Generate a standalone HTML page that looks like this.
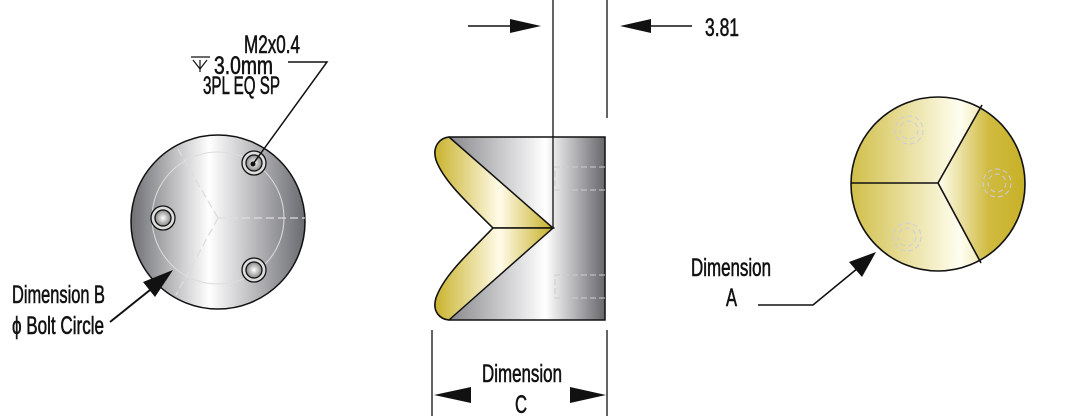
<!DOCTYPE html>
<html><head><meta charset="utf-8"><style>
html,body{margin:0;padding:0;background:#fff;}
svg{display:block;}
text{font-family:"Liberation Sans",sans-serif;font-size:25px;fill:#111;stroke:#111;stroke-width:0.6;}
</style></head><body>
<svg width="1065" height="416" viewBox="0 0 1065 416" xmlns="http://www.w3.org/2000/svg">
<defs>
<linearGradient id="met" x1="0" x2="1" y1="0" y2="0">
<stop offset="0" stop-color="#6e6f73"/><stop offset="0.45" stop-color="#ffffff"/><stop offset="1" stop-color="#6a6b70"/>
</linearGradient>
<linearGradient id="met2" x1="0" x2="1">
<stop offset="0" stop-color="#77787c"/><stop offset="0.65" stop-color="#ffffff"/><stop offset="1" stop-color="#66676b"/>
</linearGradient>
<linearGradient id="gold" x1="0" x2="1">
<stop offset="0" stop-color="#c9b32e"/><stop offset="0.55" stop-color="#fffbe8"/><stop offset="1" stop-color="#c6af26"/>
</linearGradient>
<linearGradient id="gold2" x1="0" x2="1">
<stop offset="0" stop-color="#ccb838"/><stop offset="0.6" stop-color="#fffef0"/><stop offset="1" stop-color="#c8b22a"/>
</linearGradient>
<linearGradient id="gold3" x1="0" x2="1">
<stop offset="0" stop-color="#fffef0"/><stop offset="0.55" stop-color="#d0bb40"/><stop offset="1" stop-color="#c6af24"/>
</linearGradient>
<radialGradient id="hole"><stop offset="0" stop-color="#fff"/><stop offset="1" stop-color="#888"/></radialGradient>
</defs>

<!-- LEFT CIRCLE -->
<circle cx="218" cy="222" r="87" fill="url(#met)" stroke="#111" stroke-width="1.5"/>
<circle cx="218" cy="218" r="66" fill="none" stroke="#ddd" stroke-width="1"/>
<g stroke="#ddd" stroke-width="1.3" stroke-dasharray="8,4" fill="none">
<line x1="218" y1="218" x2="305" y2="218"/>
<line x1="218" y1="218" x2="176" y2="146"/>
<line x1="218" y1="218" x2="176" y2="295"/>
</g>
<g stroke="#111" stroke-width="1.3">
<circle cx="254" cy="163" r="12" fill="#ddd"/><circle cx="254" cy="163" r="8" fill="url(#hole)"/>
<circle cx="163" cy="218" r="12" fill="#ddd"/><circle cx="163" cy="218" r="8" fill="url(#hole)"/>
<circle cx="254" cy="270" r="12" fill="#ddd"/><circle cx="254" cy="270" r="8" fill="url(#hole)"/>
</g>
<circle cx="253" cy="164" r="2.5" fill="#111"/>
<polyline points="288,62 327,62 253,164" fill="none" stroke="#111" stroke-width="1.5"/>
<line x1="110" y1="322" x2="150" y2="290" stroke="#111" stroke-width="2"/>
<polygon points="173,270 143,282 155,297" fill="#111"/>
<text x="12" y="303" textLength="93" lengthAdjust="spacingAndGlyphs">Dimension B</text>
<text x="12" y="334" textLength="92" lengthAdjust="spacingAndGlyphs">ϕ Bolt Circle</text>
<text x="244" y="53" textLength="56" lengthAdjust="spacingAndGlyphs">M2x0.4</text>
<text x="214" y="74" textLength="59" lengthAdjust="spacingAndGlyphs">3.0mm</text>
<g stroke="#111" stroke-width="1.2" fill="none"><line x1="191" y1="57" x2="210" y2="57"/><polyline points="193,60 200,69 207,60"/><line x1="200" y1="60" x2="200" y2="72"/></g>
<text x="203" y="94" textLength="77" lengthAdjust="spacingAndGlyphs">3PL EQ SP</text>

<!-- MIDDLE -->
<path d="M449,137 L605,137 L605,320 L449,320 C440,319 432,312 436,298 C444,275 470,252 493,228 C470,205 444,182 436,160 C432,146 440,138 449,137 Z" fill="url(#met2)" stroke="#111" stroke-width="1.5"/>
<path d="M449,137 L553,228 L493,228 C470,205 444,182 436,160 C432,146 440,138 449,137 Z" fill="url(#gold)" stroke="#111" stroke-width="1.5"/>
<path d="M449,320 L553,228 L493,228 C470,252 444,275 436,298 C432,312 440,319 449,320 Z" fill="url(#gold)" stroke="#111" stroke-width="1.5"/>
<g stroke="#ccc" stroke-width="1" stroke-dasharray="6,3" fill="none">
<polyline points="605,167 555,167 555,190 605,190"/>
<polyline points="605,275 555,275 555,298 605,298"/>
</g>
<line x1="553" y1="0" x2="553" y2="228" stroke="#111" stroke-width="1.3"/>
<line x1="607" y1="0" x2="607" y2="118" stroke="#111" stroke-width="1.3"/>
<line x1="468" y1="26" x2="512" y2="26" stroke="#111" stroke-width="1.5"/>
<polygon points="510,19 541,26 510,33" fill="#111"/>
<line x1="648" y1="26" x2="692" y2="26" stroke="#111" stroke-width="1.5"/>
<polygon points="651,19 620,26 651,33" fill="#111"/>
<text x="705" y="36" textLength="34" lengthAdjust="spacingAndGlyphs">3.81</text>
<line x1="432" y1="330" x2="432" y2="416" stroke="#111" stroke-width="1.3"/>
<line x1="607" y1="330" x2="607" y2="416" stroke="#111" stroke-width="1.3"/>
<polygon points="471,387 434,395 471,403" fill="#111"/>
<polygon points="570,387 606,395 570,403" fill="#111"/>
<text x="482" y="382" textLength="80" lengthAdjust="spacingAndGlyphs">Dimension</text>
<text x="515" y="413" textLength="12" lengthAdjust="spacingAndGlyphs">C</text>

<!-- RIGHT -->
<clipPath id="rc"><circle cx="938" cy="184" r="87"/></clipPath>
<g clip-path="url(#rc)">
<rect x="840" y="80" width="200" height="200" fill="url(#gold2)"/>
<polygon points="938,183 982,105 1030,105 1030,265 981,263" fill="url(#gold3)"/>
</g>
<circle cx="938" cy="184" r="87" fill="none" stroke="#111" stroke-width="1.6"/>
<polyline points="851,183 938,183 982,105" fill="none" stroke="#111" stroke-width="1.6"/>
<line x1="938" y1="183" x2="981" y2="263" stroke="#111" stroke-width="1.6"/>
<g stroke="#ccd" stroke-width="1" stroke-dasharray="5,3" fill="none">
<circle cx="909" cy="130" r="14"/><circle cx="909" cy="130" r="9"/>
<circle cx="997" cy="183" r="14"/><circle cx="997" cy="183" r="9"/>
<circle cx="907" cy="237" r="14"/><circle cx="907" cy="237" r="9"/>
</g>
<polyline points="758,305 813,305 858,268" fill="none" stroke="#111" stroke-width="1.6"/>
<polygon points="876,252 849,262 862,277" fill="#111"/>
<text x="691" y="276" textLength="80" lengthAdjust="spacingAndGlyphs">Dimension</text>
<text x="726" y="306" textLength="11" lengthAdjust="spacingAndGlyphs">A</text>
</svg>
</body></html>
